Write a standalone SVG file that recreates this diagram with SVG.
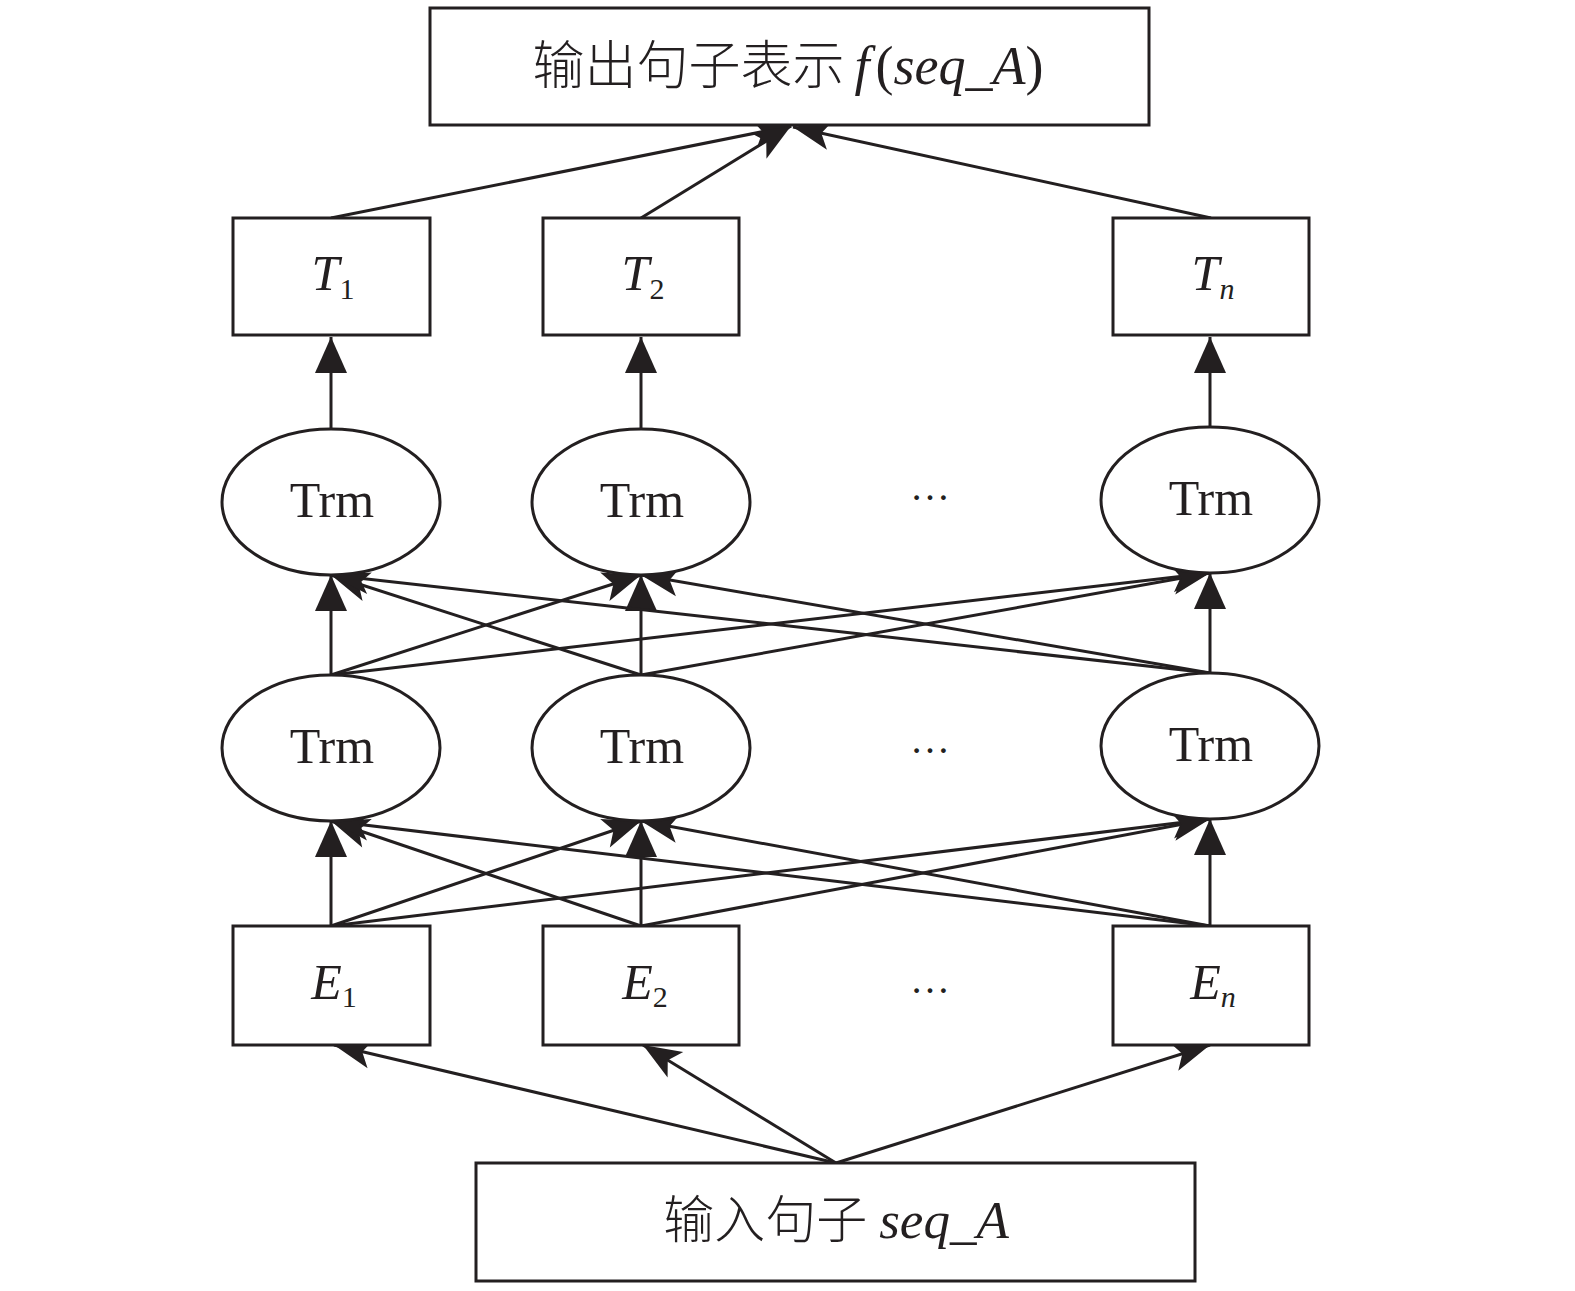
<svg xmlns="http://www.w3.org/2000/svg" width="1575" height="1291" viewBox="0 0 1575 1291">
<style>
.box{fill:#fff;stroke:#231f20;stroke-width:3}
.ell{fill:#fff;stroke:#231f20;stroke-width:3}
.ln{stroke:#231f20;stroke-width:3;fill:none}
.v{marker-end:url(#tri)}
.d{marker-end:url(#barb)}
.lat{font-family:"Liberation Serif","Times New Roman",serif;fill:#231f20}
.cjk{font-family:"Noto Sans CJK SC","Noto Sans CJK JP",sans-serif;fill:#231f20;font-weight:300}
.it{font-style:italic}
</style>
<defs>
<marker id="tri" markerUnits="userSpaceOnUse" markerWidth="44" markerHeight="40" viewBox="-40 -20 44 40" refX="0" refY="0" orient="auto" overflow="visible">
<path d="M0,0 L-36,-16 L-36,16 Z" fill="#231f20"/>
</marker>
<marker id="barb" markerUnits="userSpaceOnUse" markerWidth="44" markerHeight="40" viewBox="-40 -20 44 40" refX="0" refY="0" orient="auto" overflow="visible">
<path d="M0,0 L-38,-15 L-29,0 L-38,15 Z" fill="#231f20"/>
</marker>
</defs>
<rect width="1575" height="1291" fill="#fff"/>

<g id="connectors">
<line class="ln d" x1="836" y1="1163" x2="334" y2="1045"/>
<line class="ln d" x1="836" y1="1163" x2="643" y2="1045"/>
<line class="ln d" x1="836" y1="1163" x2="1210" y2="1045"/>
<line class="ln v" x1="331" y1="926" x2="331" y2="821"/>
<line class="ln d" x1="331" y1="926" x2="641" y2="821"/>
<line class="ln d" x1="331" y1="926" x2="1210" y2="819"/>
<line class="ln d" x1="641" y1="926" x2="331" y2="821"/>
<line class="ln v" x1="641" y1="926" x2="641" y2="821"/>
<line class="ln d" x1="641" y1="926" x2="1210" y2="819"/>
<line class="ln d" x1="1210" y1="926" x2="331" y2="821"/>
<line class="ln d" x1="1210" y1="926" x2="641" y2="821"/>
<line class="ln v" x1="1210" y1="926" x2="1210" y2="819"/>
<line class="ln v" x1="331" y1="675" x2="331" y2="575"/>
<line class="ln d" x1="331" y1="675" x2="641" y2="575"/>
<line class="ln d" x1="331" y1="675" x2="1210" y2="573"/>
<line class="ln d" x1="641" y1="675" x2="331" y2="575"/>
<line class="ln v" x1="641" y1="675" x2="641" y2="575"/>
<line class="ln d" x1="641" y1="675" x2="1210" y2="573"/>
<line class="ln d" x1="1210" y1="673" x2="331" y2="575"/>
<line class="ln d" x1="1210" y1="673" x2="641" y2="575"/>
<line class="ln v" x1="1210" y1="673" x2="1210" y2="573"/>
<line class="ln v" x1="331" y1="430" x2="331" y2="337"/>
<line class="ln v" x1="641" y1="430" x2="641" y2="337"/>
<line class="ln v" x1="1210" y1="427" x2="1210" y2="337"/>
<line class="ln d" x1="331" y1="218" x2="791" y2="126"/>
<line class="ln d" x1="641" y1="218" x2="791" y2="126"/>
<line class="ln d" x1="1211" y1="218" x2="793" y2="127"/>
</g>

<g id="output">
<rect class="box" x="430" y="8" width="719" height="117"/>
<text x="788" y="84" text-anchor="middle" font-size="52"><tspan class="cjk">输出句子表示</tspan><tspan class="lat it" dx="10" font-size="54">f</tspan><tspan class="lat" font-size="54" dx="6">(</tspan><tspan class="lat it" font-size="54">seq_A</tspan><tspan class="lat" font-size="54">)</tspan></text>
</g>

<g id="T1"><rect class="box" x="233" y="218" width="197" height="117"/><text class="lat" x="333" y="290" text-anchor="middle" font-size="50"><tspan class="it">T</tspan><tspan font-size="30" dy="9">1</tspan></text></g>
<g id="T2"><rect class="box" x="543" y="218" width="196" height="117"/><text class="lat" x="643" y="290" text-anchor="middle" font-size="50"><tspan class="it">T</tspan><tspan font-size="30" dy="9">2</tspan></text></g>
<g id="Tn"><rect class="box" x="1113" y="218" width="196" height="117"/><text class="lat" x="1213" y="290" text-anchor="middle" font-size="50"><tspan class="it">T</tspan><tspan class="it" font-size="30" dy="9">n</tspan></text></g>

<g id="trm11"><ellipse class="ell" cx="331" cy="502" rx="109" ry="73"/><text class="lat" x="332" y="517" text-anchor="middle" font-size="50">Trm</text></g>
<g id="trm12"><ellipse class="ell" cx="641" cy="502" rx="109" ry="73"/><text class="lat" x="642" y="517" text-anchor="middle" font-size="50">Trm</text></g>
<g id="trm13"><ellipse class="ell" cx="1210" cy="500" rx="109" ry="73"/><text class="lat" x="1211" y="515" text-anchor="middle" font-size="50">Trm</text></g>
<g id="dots1"><text class="lat" x="930" y="500" text-anchor="middle" font-size="40">…</text></g>

<g id="trm21"><ellipse class="ell" cx="331" cy="748" rx="109" ry="73"/><text class="lat" x="332" y="763" text-anchor="middle" font-size="50">Trm</text></g>
<g id="trm22"><ellipse class="ell" cx="641" cy="748" rx="109" ry="73"/><text class="lat" x="642" y="763" text-anchor="middle" font-size="50">Trm</text></g>
<g id="trm23"><ellipse class="ell" cx="1210" cy="746" rx="109" ry="73"/><text class="lat" x="1211" y="761" text-anchor="middle" font-size="50">Trm</text></g>
<g id="dots2"><text class="lat" x="930" y="753" text-anchor="middle" font-size="40">…</text></g>

<g id="E1"><rect class="box" x="233" y="926" width="197" height="119"/><text class="lat" x="334" y="999" text-anchor="middle" font-size="50"><tspan class="it">E</tspan><tspan font-size="30" dy="8">1</tspan></text></g>
<g id="E2"><rect class="box" x="543" y="926" width="196" height="119"/><text class="lat" x="645" y="999" text-anchor="middle" font-size="50"><tspan class="it">E</tspan><tspan font-size="30" dy="8">2</tspan></text></g>
<g id="En"><rect class="box" x="1113" y="926" width="196" height="119"/><text class="lat" x="1213" y="999" text-anchor="middle" font-size="50"><tspan class="it">E</tspan><tspan class="it" font-size="30" dy="8">n</tspan></text></g>
<g id="dots3"><text class="lat" x="930" y="993" text-anchor="middle" font-size="40">…</text></g>

<g id="input">
<rect class="box" x="476" y="1163" width="719" height="118"/>
<text x="836" y="1238" text-anchor="middle" font-size="51"><tspan class="cjk">输入句子</tspan><tspan class="lat it" dx="12" font-size="53">seq_A</tspan></text>
</g>
</svg>
